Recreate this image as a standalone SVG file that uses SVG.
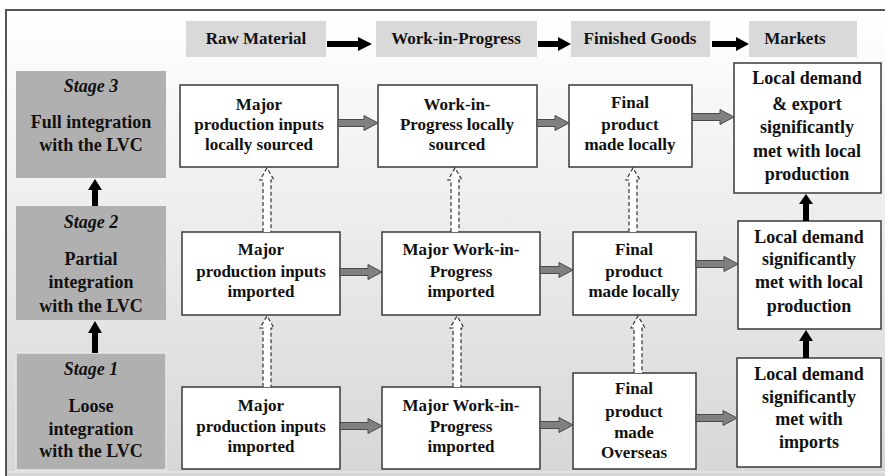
<svg xmlns="http://www.w3.org/2000/svg" width="885" height="476" viewBox="0 0 885 476">
<defs>
<linearGradient id="bg" x1="0" y1="0" x2="0" y2="1">
<stop offset="0" stop-color="#ffffff"/>
<stop offset="1" stop-color="#d6d6d6"/>
</linearGradient>
</defs>
<style>
text{font-family:'Liberation Serif','DejaVu Serif',serif;font-weight:bold;fill:#111;text-anchor:middle}
.n{font-size:17px}
.m{font-size:18px}
.s{font-size:18px}
.it{font-style:italic}
.h{font-size:17px}
.box{fill:#ffffff;stroke:#3a3a3a;stroke-width:1.5}
.hdr{fill:#d9d9d9}
.stg{fill:#b0b0b0}
.blk{fill:#000}
.ga{fill:#808080;stroke:#4a4a4a;stroke-width:1}
.da{fill:#ffffff;stroke:#333;stroke-width:1.2;stroke-dasharray:4 2.5}
</style>
<rect x="0" y="0" width="885" height="476" fill="#ffffff"/>
<rect x="6" y="10" width="884" height="470" fill="url(#bg)" stroke="#555" stroke-width="2"/>
<line x1="8" y1="472" x2="885" y2="472" stroke="#ececec" stroke-width="1"/>
<g font-family="Liberation Serif, DejaVu Serif, serif">
<g id="header-raw"><rect class="hdr" x="186" y="21" width="140" height="36"/><text class="h" x="256" y="44">Raw Material</text></g>
<g id="header-wip"><rect class="hdr" x="376" y="21" width="161" height="36"/><text class="h" x="456" y="44">Work-in-Progress</text></g>
<g id="header-fg"><rect class="hdr" x="571" y="21" width="139" height="36"/><text class="h" x="640" y="44">Finished Goods</text></g>
<g id="header-mk"><rect class="hdr" x="749" y="21" width="108" height="36"/><text class="h" x="795" y="44">Markets</text></g>

<g id="stage3"><rect class="stg" x="16" y="71" width="150" height="107"/><text class="s it" x="91" y="92">Stage 3</text><text class="s" x="91" y="128">Full integration</text><text class="s" x="91" y="151">with the LVC</text></g>
<g id="stage2"><rect class="stg" x="16" y="206" width="150" height="114"/><text class="s it" x="91" y="228">Stage 2</text><text class="s" x="91" y="265">Partial</text><text class="s" x="91" y="288">integration</text><text class="s" x="91" y="312">with the LVC</text></g>
<g id="stage1"><rect class="stg" x="16" y="353" width="150" height="117" stroke="#e8e8e8" stroke-width="1.5"/><text class="s it" x="91" y="375">Stage 1</text><text class="s" x="91" y="412">Loose</text><text class="s" x="91" y="435">integration</text><text class="s" x="91" y="457">with the LVC</text></g>

<g id="r1c1"><rect class="box" x="180" y="85" width="158" height="82"/><text class="n" x="259" y="110">Major</text><text class="n" x="259" y="130">production inputs</text><text class="n" x="259" y="150">locally sourced</text></g>
<g id="r1c2"><rect class="box" x="378" y="85" width="159" height="82"/><text class="n" x="457" y="110">Work-in-</text><text class="n" x="457" y="130">Progress locally</text><text class="n" x="457" y="150">sourced</text></g>
<g id="r1c3"><rect class="box" x="569" y="85" width="123" height="82"/><text class="n" x="630" y="108">Final</text><text class="n" x="630" y="130">product</text><text class="n" x="630" y="150">made locally</text></g>
<g id="r1c4"><rect class="box" x="734" y="63" width="147" height="130"/><text class="m" x="807" y="84">Local demand</text><text class="m" x="807" y="110">&amp; export</text><text class="m" x="807" y="133">significantly</text><text class="m" x="807" y="157">met with local</text><text class="m" x="807" y="180">production</text></g>

<g id="r2c1"><rect class="box" x="182" y="232" width="158" height="83"/><text class="n" x="261" y="255">Major</text><text class="n" x="261" y="277">production inputs</text><text class="n" x="261" y="297">imported</text></g>
<g id="r2c2"><rect class="box" x="382" y="232" width="158" height="83"/><text class="n" x="461" y="255">Major Work-in-</text><text class="n" x="461" y="277">Progress</text><text class="n" x="461" y="297">imported</text></g>
<g id="r2c3"><rect class="box" x="573" y="232" width="123" height="83"/><text class="n" x="634" y="255">Final</text><text class="n" x="634" y="277">product</text><text class="n" x="634" y="297">made locally</text></g>
<g id="r2c4"><rect class="box" x="738" y="221" width="143" height="108"/><text class="m" x="809" y="243">Local demand</text><text class="m" x="809" y="265">significantly</text><text class="m" x="809" y="288">met with local</text><text class="m" x="809" y="312">production</text></g>

<g id="r3c1"><rect class="box" x="182" y="387" width="158" height="82"/><text class="n" x="261" y="411">Major</text><text class="n" x="261" y="432">production inputs</text><text class="n" x="261" y="452">imported</text></g>
<g id="r3c2"><rect class="box" x="382" y="387" width="158" height="82"/><text class="n" x="461" y="411">Major Work-in-</text><text class="n" x="461" y="432">Progress</text><text class="n" x="461" y="452">imported</text></g>
<g id="r3c3"><rect class="box" x="573" y="373" width="123" height="96"/><text class="n" x="634" y="394">Final</text><text class="n" x="634" y="417">product</text><text class="n" x="634" y="438">made</text><text class="n" x="634" y="458">Overseas</text></g>
<g id="r3c4"><rect class="box" x="737" y="358" width="144" height="109"/><text class="m" x="809" y="380">Local demand</text><text class="m" x="809" y="403">significantly</text><text class="m" x="809" y="425">met with</text><text class="m" x="809" y="448">imports</text></g>
</g>
<g id="connectors">
<path class="blk" d="M327,41 H358 V37 L372,44 L358,51 V47 H327 Z"/>
<path class="blk" d="M538,41 H558 V37 L571,44 L558,51 V47 H538 Z"/>
<path class="blk" d="M712,41 H736 V37 L749,44 L736,51 V47 H712 Z"/>
<path class="blk" d="M92,206 V190 H88 L95,179 L102,190 H98 V206 Z"/>
<path class="blk" d="M92,353 V333 H88 L95,321 L102,333 H98 V353 Z"/>
<path class="blk" d="M803,221 V204 H799 L806,194 L813,204 H809 V221 Z"/>
<path class="blk" d="M803,358 V341 H799 L806,330 L813,341 H809 V358 Z"/>
<path class="ga" d="M338,119.5 H364 V115.5 L378,123 L364,130.5 V126.5 H338 Z"/>
<path class="ga" d="M537,119.5 H555 V115.5 L569,123 L555,130.5 V126.5 H537 Z"/>
<path class="ga" d="M692,113.5 H720 V109.5 L734,117 L720,124.5 V120.5 H692 Z"/>
<path class="ga" d="M340,268.5 H368 V264.5 L382,272 L368,279.5 V275.5 H340 Z"/>
<path class="ga" d="M540,266.5 H559 V262.5 L573,270 L559,277.5 V273.5 H540 Z"/>
<path class="ga" d="M696,260.5 H724 V256.5 L738,264 L724,271.5 V267.5 H696 Z"/>
<path class="ga" d="M340,422.5 H368 V418.5 L382,426 L368,433.5 V429.5 H340 Z"/>
<path class="ga" d="M540,421.5 H559 V417.5 L573,425 L559,432.5 V428.5 H540 Z"/>
<path class="ga" d="M696,414.5 H723 V410.5 L737,418 L723,425.5 V421.5 H696 Z"/>
<path class="da" d="M263,232 V180 H260 L267,168 L274,180 H271 V232"/>
<path class="da" d="M263,387 V328 H260 L267,316 L274,328 H271 V387"/>
<path class="da" d="M451,232 V180 H448 L455,168 L462,180 H459 V232"/>
<path class="da" d="M453,387 V328 H450 L457,316 L464,328 H461 V387"/>
<path class="da" d="M629,232 V180 H626 L633,168 L640,180 H637 V232"/>
<path class="da" d="M634,373 V328 H631 L638,316 L645,328 H642 V373"/>
</g>
</svg>
